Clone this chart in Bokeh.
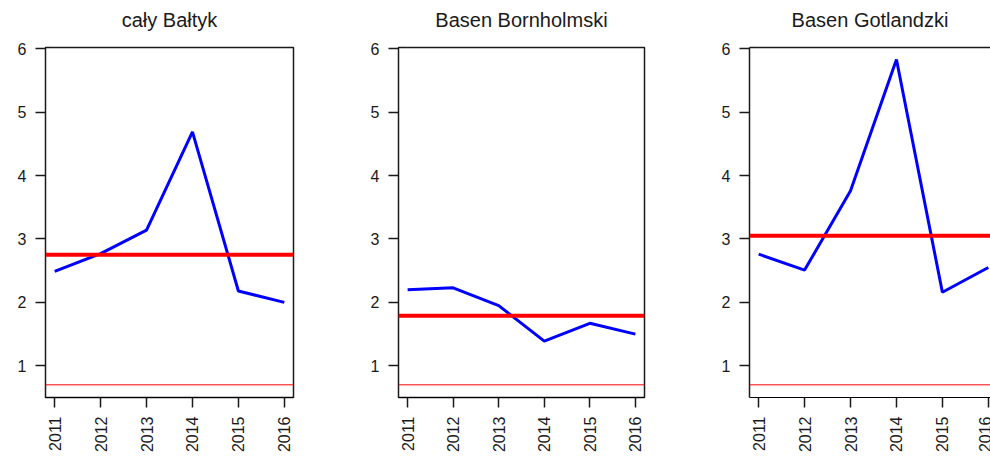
import math
from bokeh.plotting import figure
from bokeh.models import Range1d, FixedTicker, Span, LinearAxis
from bokeh.layouts import row
from bokeh.embed import file_html
from bokeh.resources import INLINE

# ---- data ----
years = [2011, 2012, 2013, 2014, 2015, 2016]
titles = ["cały Bałtyk", "Basen Bornholmski", "Basen Gotlandzki"]
baltyk = [2.49, 2.77, 3.14, 4.69, 2.18, 2.00]
bornholm = [2.20, 2.23, 1.95, 1.39, 1.67, 1.50]
gotland = [2.76, 2.51, 3.76, 5.83, 2.16, 2.55]
series = [baltyk, bornholm, gotland]
ref_level = [2.75, 1.79, 3.05]
low_level = [0.7, 0.7, 0.7]
y_ticks = [1, 2, 3, 4, 5, 6]

# ---- layout ----
FONT = "Liberation Sans"
TXT = "#1a1a1a"
X0, X1 = 2010.8, 2016.2
Y0, Y1 = 0.5, 6.02
H = 459
B_TOP, B_BOT = 47, 62
# (figure width, border left, border right)
geo = [(350, 45, 57), (355, 48, 61), (285, 44, 0)]
full_frame = 248

figs = []
for i in range(3):
    w, bl, br = geo[i]
    fw = w - bl - br
    x_end = X0 + fw * (X1 - X0) / full_frame if i == 2 else X1
    p = figure(width=w, height=H, output_backend="svg", toolbar_location=None,
               x_range=Range1d(X0, x_end), y_range=Range1d(Y0, Y1),
               min_border_left=bl, min_border_right=br,
               min_border_top=B_TOP, min_border_bottom=B_BOT,
               title=titles[i])
    p.title.align = "center"
    p.title.text_font = FONT
    p.title.text_font_size = "20px"
    p.title.text_font_style = "normal"
    p.title.text_color = TXT
    p.title.vertical_align = "bottom"
    p.title.standoff = 4
    p.grid.visible = False
    p.background_fill_color = "white"
    p.border_fill_color = "white"

    p.line(years, series[i], line_color="#0000ff", line_width=3)
    p.add_layout(Span(location=ref_level[i], dimension="width",
                      line_color="#ff0000", line_width=4))
    p.add_layout(Span(location=low_level[i], dimension="width",
                      line_color="#ff0000", line_width=1))

    p.xaxis.ticker = FixedTicker(ticks=years)
    p.xaxis.major_label_orientation = math.pi / 2
    p.yaxis.ticker = FixedTicker(ticks=y_ticks)
    for ax in (p.xaxis, p.yaxis):
        ax.major_tick_out = 10
        ax.major_tick_in = 0
        ax.minor_tick_line_color = None
        ax.major_tick_line_color = TXT
        ax.major_tick_line_width = 1.5
        ax.major_label_text_font = FONT
        ax.major_label_text_font_size = "16px"
        ax.major_label_text_color = TXT
        ax.major_label_standoff = 9

    # invisible spacer axis between frame and title (also draws the top border of panel 3)
    spacer = LinearAxis(ticker=FixedTicker(ticks=years[:1]), major_label_text_font_size="0px",
                        major_label_text_color=None, major_label_standoff=0,
                        major_tick_out=15, major_tick_in=0,
                        axis_line_color=TXT if i == 2 else None, axis_line_width=1.5,
                        major_tick_line_color="white", major_tick_line_width=0.1,
                        minor_tick_line_color=None)
    p.add_layout(spacer, "above")

    if i < 2:
        p.xaxis[0].axis_line_color = None
        p.yaxis[0].axis_line_color = None
        p.outline_line_color = TXT
        p.outline_line_width = 1.5
    else:
        p.outline_line_color = None
        for ax in (p.xaxis[0], p.yaxis[0]):
            ax.axis_line_color = TXT
            ax.axis_line_width = 1.5
    figs.append(p)

layout = row(*figs)
open("out.html", "w").write(file_html(layout, INLINE))
